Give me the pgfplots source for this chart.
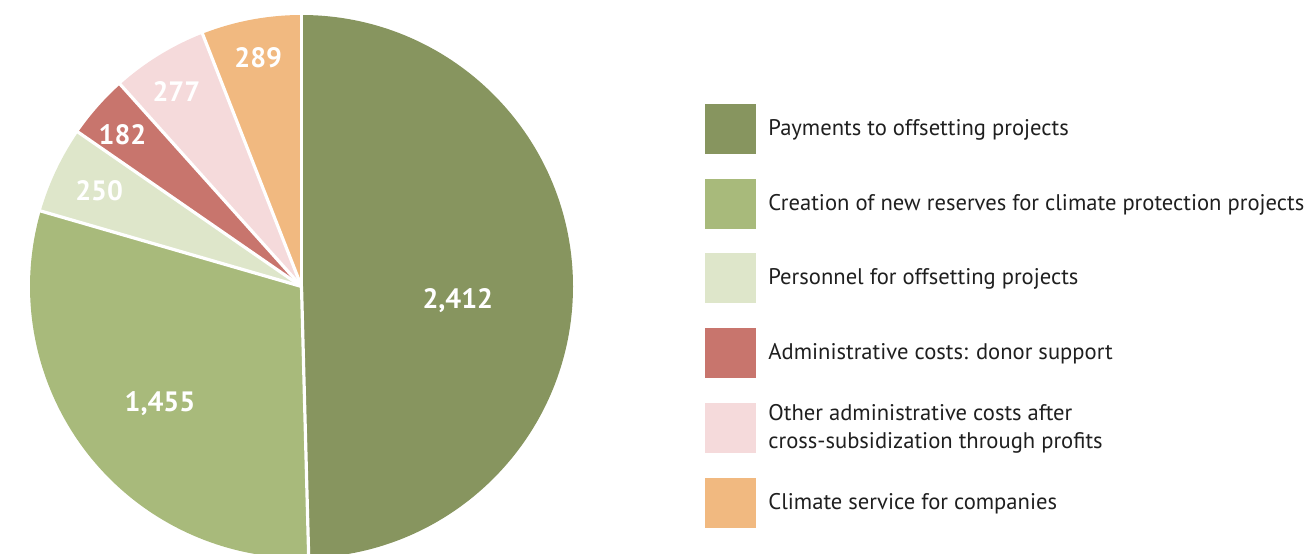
\documentclass[border=0pt]{standalone}
\usepackage{pgfplots}
\pgfplotsset{compat=1.18}
\usepackage{pgfplotstable}
\usepackage{fontspec}
\setmainfont{PT Sans}

\definecolor{s0}{HTML}{87955F}
\definecolor{s1}{HTML}{A8BA7B}
\definecolor{s2}{HTML}{DEE6CA}
\definecolor{s3}{HTML}{C8756D}
\definecolor{s4}{HTML}{F5DADB}
\definecolor{s5}{HTML}{F1B980}

% value, label angle shift, label distance (px)
\pgfplotstableread{
value dang ldist
2412  -6   157
1455   2   184
250    0   224
182    1   235
277    1   232
289    0   233
}\piedata

\def\cx{301.5}
\def\cy{266.5}
\def\rad{271.5}

\begin{document}
\begin{tikzpicture}
\begin{axis}[
    name=ax,
    scale only axis,
    width=656.5pt, height=276.5pt,
    xmin=0, xmax=1313, ymin=0, ymax=553,
    hide axis, clip=false, disabledatascaling,
]
\addplot[draw=none, forget plot] coordinates {(0,0) (1313,553)};
\pgfplotsextra{
    % total
    \gdef\total{0}
    \foreach \i in {0,...,5}{
        \pgfplotstablegetelem{\i}{value}\of\piedata
        \pgfmathsetmacro\t{\total+\pgfplotsretval}
        \xdef\total{\t}
    }
    % slices
    \gdef\cum{0}
    \foreach \i in {0,...,5}{
        \pgfplotstablegetelem{\i}{value}\of\piedata
        \let\v\pgfplotsretval
        \pgfmathsetmacro\a{90-(\cum/\total)*360}
        \pgfmathsetmacro\b{90-((\cum+\v)/\total)*360}
        \pgfmathsetmacro\sx{\cx+\rad*cos(\a)}
        \pgfmathsetmacro\sy{\cy+\rad*sin(\a)}
        \fill[s\i] (axis cs:\cx,\cy) -- (axis cs:\sx,\sy)
            arc[start angle=\a, end angle=\b, radius=\rad] -- cycle;
        \pgfmathsetmacro\c{\cum+\v}
        \xdef\cum{\c}
    }
    % white separators and labels
    \gdef\cum{0}
    \foreach \i in {0,...,5}{
        \pgfplotstablegetelem{\i}{value}\of\piedata
        \let\v\pgfplotsretval
        \pgfplotstablegetelem{\i}{dang}\of\piedata
        \let\da\pgfplotsretval
        \pgfplotstablegetelem{\i}{ldist}\of\piedata
        \let\ld\pgfplotsretval
        \pgfmathsetmacro\a{90-(\cum/\total)*360}
        \pgfmathsetmacro\m{90-((\cum+\v/2)/\total)*360+\da}
        \pgfmathsetmacro\sx{\cx+(\rad+3)*cos(\a)}
        \pgfmathsetmacro\sy{\cy+(\rad+3)*sin(\a)}
        \draw[white, line width=1.6pt] (axis cs:\cx,\cy) -- (axis cs:\sx,\sy);
        \pgfmathsetmacro\lx{\cx+\ld*cos(\m)}
        \pgfmathsetmacro\ly{\cy+\ld*sin(\m)}
        \node[white, font=\fontsize{14}{16}\selectfont\bfseries, inner sep=0pt]
            at (axis cs:\lx,\ly) {\pgfmathprintnumber[fixed, precision=0, 1000 sep={,}, assume math mode=true]{\v}};
        \pgfmathsetmacro\c{\cum+\v}
        \xdef\cum{\c}
    }
    % legend
    \foreach \i/\txt in {0/Payments to offsetting projects,
                         1/Creation of new reserves for climate protection projects,
                         2/Personnel for offsetting projects,
                         3/Administrative costs: donor support,
                         4/,
                         5/Climate service for companies}{
        \pgfmathsetmacro\yc{553-129-74.7*\i}
        \pgfmathsetmacro\yt{\yc-25}
        \pgfmathsetmacro\yb{\yc+25}
        \pgfmathsetmacro\ybase{\yc-6.5}
        \fill[s\i] (axis cs:704.5,\yt) rectangle (axis cs:755.5,\yb);
        \node[anchor=base west, inner sep=0pt, font=\fontsize{11.3}{13}\selectfont, text=black!88]
            at (axis cs:768,\ybase) {\txt};
    }
    \pgfmathsetmacro\yc{553-129-74.7*4}
    \pgfmathsetmacro\ya{\yc+7}
    \pgfmathsetmacro\yb{\yc-21}
    \node[anchor=base west, inner sep=0pt, font=\fontsize{11.3}{13}\selectfont, text=black!88]
        at (axis cs:768,\ya) {Other administrative costs after};
    \node[anchor=base west, inner sep=0pt, font=\fontsize{11.3}{13}\selectfont, text=black!88]
        at (axis cs:768,\yb) {cross-subsidization through profits};
}
\end{axis}
\pgfresetboundingbox
\path[use as bounding box] (ax.south west) rectangle (ax.north east);
\end{tikzpicture}
\end{document}
